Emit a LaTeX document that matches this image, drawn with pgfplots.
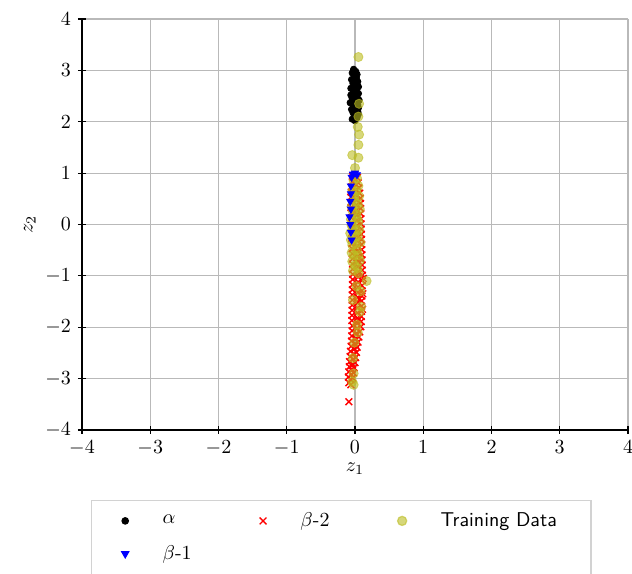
\documentclass[border=0pt]{standalone}
\usepackage{pgfplots}
\pgfplotsset{compat=1.18}
\definecolor{olivec}{HTML}{BCBD22}
\begin{document}
\begin{tikzpicture}
\begin{axis}[
 scale only axis, width=273pt, height=205.5pt,
 xmin=-4, xmax=4, ymin=-4, ymax=4,
 xtick={-4,...,4}, ytick={-4,...,4},
 axis x line*=bottom, axis y line*=left,
 axis line style={black, line width=0.8pt},
 tick align=center, major tick length=4pt,
 tick style={black, line width=0.6pt},
 grid=major, grid style={gray!55, line width=0.6pt},
 xlabel={$z_1$}, ylabel={$z_2$},
 xlabel style={yshift=3pt},
 ylabel style={yshift=-2pt},
 legend columns=3, legend cell align=left,
 legend style={at={(0.475,-0.17)}, anchor=north, draw=gray!35, line width=0.6pt,
   row sep=4pt, inner xsep=15pt, inner ysep=4pt,
   /tikz/every odd column/.append style={column sep=15pt},
   /tikz/every even column/.append style={column sep=32pt}},
]
\addplot[only marks, mark=*, mark size=1.6pt, black] coordinates {
(-0.02,3.02) (0.01,2.98) (-0.04,2.95) (0.03,2.92) (-0.01,2.88) (0.02,2.85) (-0.05,2.82) (0.04,2.78) (-0.03,2.75) (0.00,2.72) (0.05,2.68) (-0.06,2.65) (0.02,2.62) (-0.02,2.58) (0.05,2.55) (-0.06,2.52) (0.03,2.48) (-0.04,2.45) (0.06,2.42) (0.00,2.40) (-0.07,2.37) (0.04,2.33) (-0.02,2.30) (0.05,2.27) (-0.05,2.24) (0.01,2.21) (-0.03,2.18) (0.05,2.15) (-0.01,2.12) (0.03,2.08) (-0.04,2.05) (0.00,2.02) (0.02,2.50) (-0.01,2.68) (0.04,2.20)
};
\addlegendentry{$\alpha$}
\addplot[only marks, mark=x, mark size=2.4pt, red, line width=0.7pt] coordinates {
(-0.034,0.93) (0.006,0.88) (0.036,0.91)
(-0.041,0.83) (0.009,0.78) (0.046,0.81)
(-0.048,0.73) (0.012,0.68) (0.057,0.71)
(-0.055,0.63) (0.015,0.58) (0.068,0.61)
(-0.062,0.53) (0.018,0.48) (0.078,0.51)
(-0.060,0.43) (0.020,0.38) (0.080,0.41)
(-0.058,0.33) (0.022,0.28) (0.082,0.31)
(-0.056,0.23) (0.024,0.18) (0.084,0.21)
(-0.054,0.13) (0.026,0.08) (0.086,0.11)
(-0.052,0.03) (0.028,-0.02) (0.088,0.01)
(-0.050,-0.07) (0.030,-0.12) (0.090,-0.09)
(-0.048,-0.17) (0.032,-0.22) (0.092,-0.19)
(-0.046,-0.27) (0.034,-0.32) (0.094,-0.29)
(-0.044,-0.37) (0.036,-0.42) (0.096,-0.39)
(-0.042,-0.47) (0.038,-0.52) (0.098,-0.49)
(-0.040,-0.57) (0.040,-0.62) (0.100,-0.59)
(-0.038,-0.67) (0.042,-0.72) (0.102,-0.69)
(-0.036,-0.77) (0.044,-0.82) (0.104,-0.79)
(-0.034,-0.87) (0.046,-0.92) (0.106,-0.89)
(-0.032,-0.97) (0.048,-1.02) (0.108,-0.99)
(-0.034,-1.07) (0.046,-1.12) (0.106,-1.09)
(-0.036,-1.17) (0.044,-1.22) (0.104,-1.19)
(-0.038,-1.27) (0.042,-1.32) (0.102,-1.29)
(-0.039,-1.37) (0.041,-1.42) (0.100,-1.39)
(-0.040,-1.47) (0.040,-1.52) (0.098,-1.49)
(-0.041,-1.57) (0.039,-1.62) (0.096,-1.59)
(-0.042,-1.67) (0.038,-1.72) (0.094,-1.69)
(-0.044,-1.77) (0.036,-1.82) (0.092,-1.79)
(-0.045,-1.87) (0.035,-1.92) (0.090,-1.89)
(-0.038,-1.97) (0.032,-2.02) (0.085,-1.99)
(-0.042,-2.07) (0.022,-2.12) (0.071,-2.09)
(-0.047,-2.17) (0.013,-2.22) (0.058,-2.19)
(-0.052,-2.27) (0.004,-2.32) (0.045,-2.29)
(-0.056,-2.37) (-0.006,-2.42) (0.032,-2.39)
(-0.065,-2.47) (-0.015,-2.52) (0.022,-2.49)
(-0.070,-2.57) (-0.025,-2.62) (0.009,-2.59)
(-0.079,-2.67) (-0.034,-2.72) (0.000,-2.69)
(-0.083,-2.77) (-0.043,-2.82) (-0.013,-2.79)
(-0.092,-2.87) (-0.052,-2.92) (-0.022,-2.89)
(-0.097,-2.97) (-0.061,-3.02) (-0.035,-2.99)
(-0.090,-3.08) (-0.060,-3.12)
(-0.090,-3.45)
(0.005,-0.45) (0.06,-0.95) (0.065,-1.45) (0.055,-1.85) (0.01,-2.35) (-0.045,-2.75)
(0.12,-1.05) (0.115,-1.35) (0.11,-1.65) (-0.005,0.25) (0.05,-0.25) (0.07,-0.65)
};
\addlegendentry{$\beta$-2}
\addplot[only marks, mark=*, mark size=2.3pt, color=olivec, opacity=0.6] coordinates {
(0.05,3.26) (0.06,2.35) (0.05,2.10) (0.04,1.90) (0.06,1.75) (0.05,1.55) (-0.04,1.35) (0.05,1.30) (0.00,1.10) (0.03,0.90) (-0.02,0.85) (0.05,0.75) (-0.04,0.65) (0.06,0.55) (0.00,0.45) (-0.05,0.35) (0.07,0.30) (0.02,0.20) (-0.06,0.10) (0.05,0.05) (-0.03,-0.05) (0.06,-0.10) (-0.07,-0.17) (0.00,-0.25) (0.08,-0.35) (-0.04,-0.40) (0.03,-0.50) (-0.02,-0.60) (0.07,-0.70) (0.00,-0.80) (-0.03,-0.90) (0.05,-0.95) (0.17,-1.10) (0.02,-1.20) (-0.03,-1.47) (0.08,-1.30) (0.07,-1.70) (0.03,-1.95) (-0.01,-2.30) (0.04,-2.10) (-0.03,-2.60) (-0.02,-2.90) (-0.04,-3.06) (-0.02,-3.12) (0.09,-1.60)
(0.02,0.65) (-0.01,0.55) (0.04,0.40) (-0.03,0.25) (0.03,0.12) (-0.05,-0.02) (0.02,-0.12) (-0.06,-0.30) (0.04,-0.22) (0.01,-0.38) (-0.05,-0.55) (0.05,-0.60) (-0.04,-0.72) (0.04,-0.85)
};
\addlegendentry{\textsf{Training Data}}
\addplot[only marks, mark=triangle*, mark size=2pt, blue, mark options={rotate=180}] coordinates {
(0.00,1.00) (-0.03,0.98) (0.03,0.97) (-0.05,0.92) (-0.06,0.75) (-0.06,0.60) (-0.07,0.45) (-0.06,0.30) (-0.08,0.15) (-0.07,0.00) (-0.06,-0.15) (-0.05,-0.30)
};
\addlegendentry{$\beta$-1}
\end{axis}
\pgfresetboundingbox
\path (current axis.south west) ++(-41pt,-72pt) coordinate (bl);
\path (current axis.north east) ++(2pt,9.5pt) coordinate (tr);
\useasboundingbox (bl) rectangle (tr);
\end{tikzpicture}
\end{document}
